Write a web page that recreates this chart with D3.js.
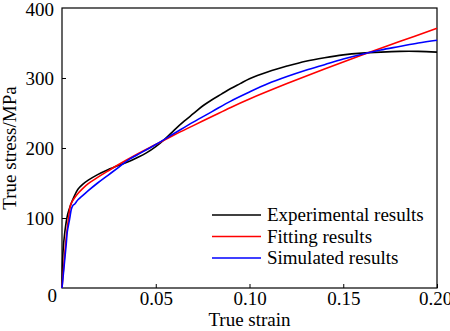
<!DOCTYPE html>
<html>
<head>
<meta charset="utf-8">
<script src="https://cdn.jsdelivr.net/npm/d3@7"></script>
<style>
  body { margin: 0; background: #fff; }
  svg text { font-family: "Liberation Serif", "Times New Roman", serif; fill: #000; }
</style>
</head>
<body>
<svg id="chart" width="450" height="331"></svg>
<script>
// strain values and stress (MPa)
const expStrain = [0, 0.0005, 0.0015, 0.003, 0.0045, 0.0065, 0.0085, 0.011, 0.014, 0.019, 0.0245, 0.03, 0.036, 0.04, 0.045, 0.05, 0.055, 0.06, 0.065, 0.07, 0.075, 0.08, 0.085, 0.09, 0.095, 0.1, 0.11, 0.12, 0.13, 0.14, 0.15, 0.16, 0.17, 0.18, 0.19, 0.2]
const expStress = [0, 50, 80, 105, 118, 131, 141, 148, 154, 162, 169, 175, 181, 186, 193, 202, 213, 226, 238, 249, 260, 269, 277, 285, 292, 299, 309, 317, 324, 329, 333, 335.5, 337, 338, 338, 337]

const fitStrain = [0, 0.0023, 0.0035, 0.0046, 0.006, 0.0085, 0.011, 0.014, 0.019, 0.0245, 0.03, 0.04, 0.05, 0.06, 0.07, 0.08, 0.09, 0.1, 0.12, 0.14, 0.16, 0.18, 0.2]
const fitStress = [0, 73, 100, 119, 126, 135, 142, 149, 158, 167, 176, 191, 205, 219, 232, 245, 258, 270, 292, 313, 333, 352, 371]

const simStrain = [0, 0.0023, 0.0028, 0.0041, 0.005, 0.0058, 0.0068, 0.0085, 0.011, 0.014, 0.019, 0.0245, 0.03, 0.036, 0.04, 0.05, 0.06, 0.07, 0.08, 0.09, 0.1, 0.11, 0.12, 0.13, 0.14, 0.15, 0.16, 0.17, 0.18, 0.19, 0.2]
const simStress = [0, 64, 80, 99, 113, 118, 120, 126, 132, 139, 150, 161, 172, 184, 190, 205, 221, 237, 252, 267, 280, 292, 302, 311, 319, 327, 334, 340, 345, 350, 354]

const seriesNames = ["Experimental results", "Fitting results", "Simulated results"]
const seriesColors = ["#000000", "#ff0000", "#0000ff"]

const xTicks = [0.05, 0.10, 0.15, 0.20]
const yTicks = [100, 200, 300, 400]

const margin = { top: 8, right: 13, bottom: 43, left: 62 },
  width = 450 - margin.left - margin.right,
  height = 331 - margin.top - margin.bottom

const fontSize = 19

const svg = d3.select("#chart")
const g = svg.append("g")
  .attr("transform", "translate(" + margin.left + "," + margin.top + ")")

const x = d3.scaleLinear().domain([0, 0.2]).range([0, width])
const y = d3.scaleLinear().domain([0, 400]).range([height, 0])

// bottom axis, ticks pointing in
const xAxis = g.append("g")
  .attr("transform", "translate(0," + height + ")")
  .call(d3.axisBottom(x).tickValues(xTicks).tickSizeInner(-4).tickSizeOuter(0).tickPadding(4)
    .tickFormat(d3.format(".2f")))
xAxis.select(".domain").remove()
xAxis.selectAll("text").attr("font-size", fontSize)
xAxis.selectAll(".tick").filter(d => d === 0.2).select("text").attr("dx", -2)

const yAxis = g.append("g")
  .call(d3.axisLeft(y).tickValues(yTicks).tickSizeInner(-4).tickSizeOuter(0).tickPadding(8))
yAxis.select(".domain").remove()
yAxis.selectAll("text").attr("font-size", fontSize)
yAxis.selectAll(".tick").filter(d => d === 400).select("line").remove()
yAxis.selectAll(".tick").filter(d => d === 400).select("text").attr("dy", "0.38em")

// origin label
g.append("text")
  .attr("x", -5).attr("y", height + 14)
  .attr("text-anchor", "end")
  .attr("font-size", fontSize)
  .text("0")

// frame
g.append("rect")
  .attr("width", width).attr("height", height)
  .attr("fill", "none").attr("stroke", "#000").attr("stroke-width", 1.2)

const line = d3.line()
  .x(d => x(d[0]))
  .y(d => y(d[1]))
  .curve(d3.curveCatmullRom.alpha(0.5))

const series = [
  d3.zip(expStrain, expStress),
  d3.zip(fitStrain, fitStress),
  d3.zip(simStrain, simStress)
]

g.selectAll("path.series")
  .data(series)
  .enter().append("path")
  .attr("class", "series")
  .attr("fill", "none")
  .attr("stroke", (d, i) => seriesColors[i])
  .attr("stroke-width", 1.6)
  .attr("d", line)

// legend
const legend = g.selectAll("g.legend")
  .data(seriesNames)
  .enter().append("g")
  .attr("class", "legend")
  .attr("transform", (d, i) => "translate(150," + (207 + i * 21.5) + ")")

legend.append("line")
  .attr("x1", 0).attr("x2", 49)
  .attr("stroke", (d, i) => seriesColors[i])
  .attr("stroke-width", 1.6)

legend.append("text")
  .attr("x", 55).attr("dy", "0.33em")
  .attr("font-size", fontSize)
  .text(d => d)

// axis titles
svg.append("text")
  .attr("x", margin.left + width / 2).attr("y", 326)
  .attr("text-anchor", "middle")
  .attr("font-size", fontSize)
  .text("True strain")

svg.append("text")
  .attr("transform", "translate(16," + (margin.top + height / 2) + ") rotate(-90)")
  .attr("text-anchor", "middle")
  .attr("font-size", fontSize)
  .text("True stress/MPa")
</script>
</body>
</html>
